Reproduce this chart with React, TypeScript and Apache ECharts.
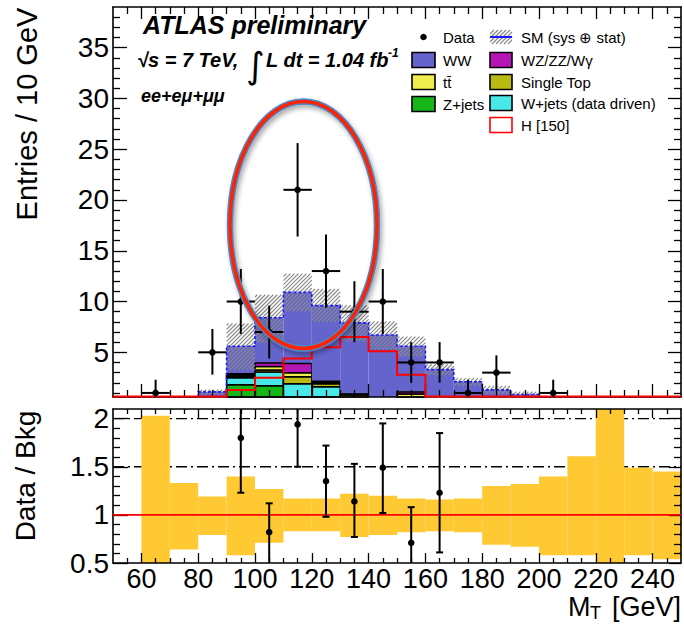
import React, { useEffect, useRef } from "react";
import * as echarts from "echarts";

// ---------------- data ----------------
const binCenters = [55, 65, 75, 85, 95, 105, 115, 125, 135, 145, 155, 165, 175, 185, 195, 205, 215, 225, 235, 245];
const binWidth = 10;
const zJets = [0, 0, 0, 0.3, 1.8, 1.7, 0.05, 0, 0, 0, 0, 0, 0, 0, 0, 0, 0, 0, 0, 0];
const wJets = [0, 0, 0, 0.05, 0.7, 1.35, 1.85, 1.6, 0.3, 0.2, 0.2, 0.1, 0.05, 0, 0, 0, 0, 0, 0, 0];
const singleTop = [0, 0, 0, 0, 0.1, 0.2, 0.7, 0.3, 0.2, 0.1, 0.3, 0.1, 0.05, 0.05, 0, 0, 0, 0, 0, 0];
const ttbar = [0, 0, 0, 0.05, 0.15, 0.35, 0.4, 0.15, 0.3, 0.2, 0.4, 0.2, 0.1, 0.05, 0.05, 0.05, 0, 0, 0, 0];
const dibosons = [0, 0, 0, 0, 0.15, 0.35, 0.9, 0.1, 0.1, 0.05, 0.2, 0.05, 0.05, 0, 0, 0, 0, 0, 0, 0];
const ww = [0.05, 0.1, 0.3, 0.7, 2.7, 4.45, 7.0, 7.45, 7.0, 6.15, 4.5, 2.85, 1.85, 1.2, 0.8, 0.35, 0.3, 0.2, 0.15, 0.1];
const higgs150 = [0, 0, 0, 0, 1.3, 2.5, 4.4, 5.5, 6.5, 5.1, 2.8, 0.3, 0.1, 0, 0, 0, 0, 0, 0, 0];

// relative SM uncertainty band (ratio panel), per bin
const bandLo = [null, 0.0, 0.64, 0.79, 0.58, 0.71, 0.83, 0.83, 0.77, 0.79, 0.82, 0.83, 0.82, 0.69, 0.67, 0.58, 0.58, 0.0, 0.58, 0.54];
const bandHi = [null, 2.03, 1.33, 1.19, 1.4, 1.27, 1.17, 1.17, 1.22, 1.2, 1.17, 1.16, 1.17, 1.3, 1.32, 1.4, 1.61, 2.5, 1.49, 1.45];

const dataX = [65, 85, 95, 105, 115, 125, 135, 145, 155, 165, 175, 185, 205];
const dataY = [1, 5, 10, 7, 21, 13, 9, 10, 4, 4, 1, 3, 1];
const dataErrLo = [1, 2.2, 3.2, 2.6, 4.6, 3.6, 3, 3.2, 2, 2, 1, 1.7, 1];
const dataErrHi = [1.3, 2.3, 3.2, 2.6, 4.6, 3.6, 3, 3.2, 2, 2, 1.3, 1.7, 1.3];

const ratioX = [95, 105, 115, 125, 135, 145, 155, 165];
const ratioY = [1.8, 0.82, 1.94, 1.35, 1.14, 1.49, 0.71, 1.23];
const ratioLo = [1.23, 0.3, 1.5, 0.98, 0.77, 1.02, 0.3, 0.61];
const ratioHi = [2.6, 1.12, 2.4, 1.72, 1.53, 1.95, 1.08, 1.85];

const xTickLabels = [60, 80, 100, 120, 140, 160, 180, 200, 220, 240];
const yMainTickLabels = [5, 10, 15, 20, 25, 30, 35];
const yRatioTickLabels = [0.5, 1, 1.5, 2];
const ratioRefLines = [1.5, 2];
const ratioUnity = [1];

// ---------------- layout / style ----------------
const X_MIN = 50, X_MAX = 250;
const Y_MAIN_MIN = 0.6, Y_MAIN_MAX = 39;
const Y_RATIO_MIN = 0.5, Y_RATIO_MAX = 2.1;
const FONT = "Liberation Sans, Arial, Helvetica, sans-serif";

const C_WW = "#6464cc";
const C_TT = "#eeee4e";
const C_Z = "#17b617";
const C_VV = "#b515b5";
const C_ST = "#b9b914";
const C_WJ = "#48e8e8";
const C_BAND = "#ffc933";

const range = (a: number, b: number, s: number) => {
  const out: number[] = [];
  for (let v = a; v <= b + 1e-9; v += s) out.push(Math.round(v * 1000) / 1000);
  return out;
};
const xMinor = range(55, 245, 5).filter((v) => !xTickLabels.includes(v));
const yMainMinor = range(1, 38, 1).filter((v) => v % 5 !== 0);
const yRatioMinor = range(0.6, 2.0, 0.1).filter((v) => !yRatioTickLabels.some((t) => Math.abs(t - v) < 1e-6));

const layers = [
  { arr: zJets, color: C_Z },
  { arr: wJets, color: C_WJ },
  { arr: singleTop, color: C_ST },
  { arr: ttbar, color: C_TT },
  { arr: dibosons, color: C_VV },
];
const smTotal = binCenters.map((_, i) => ww[i] + layers.reduce((s, l) => s + l.arr[i], 0));

const clampY = (y: number, cs: any) => Math.min(Math.max(y, cs.y), cs.y + cs.height);

function hatch(x0: number, y0: number, x1: number, y1: number, sp: number, style: any) {
  const out: any[] = [];
  const cMin = Math.ceil((x0 + y0) / sp) * sp;
  for (let c = cMin; c <= x1 + y1; c += sp) {
    const xa = Math.max(x0, c - y1);
    const xb = Math.min(x1, c - y0);
    if (xb > xa) out.push({ type: "line", shape: { x1: xa, y1: c - xa, x2: xb, y2: c - xb }, style });
  }
  return out;
}

function mkX(gridIndex: number, position: string, ticks: number[], len: number, opts: any = {}) {
  return {
    type: "value", gridIndex, position, min: X_MIN, max: X_MAX, z: 5,
    axisLine: { show: !!opts.line, onZero: false, lineStyle: { color: "#000", width: 1.6 } },
    axisTick: { show: true, inside: true, length: len, customValues: ticks, lineStyle: { color: "#000", width: 1.3 } },
    axisLabel: opts.labels
      ? { show: true, customValues: opts.labels, margin: 2, fontSize: 27, fontFamily: FONT, color: "#000" }
      : { show: false },
    splitLine: { show: false },
  };
}
function mkY(gridIndex: number, position: string, min: number, max: number, ticks: number[], len: number, opts: any = {}) {
  return {
    type: "value", gridIndex, position, min, max, z: 5,
    axisLine: { show: !!opts.line, onZero: false, lineStyle: { color: "#000", width: 1.6 } },
    axisTick: { show: true, inside: true, length: len, customValues: ticks, lineStyle: { color: "#000", width: 1.3 } },
    axisLabel: opts.labels
      ? { show: true, customValues: opts.labels, margin: 4, fontSize: 28, fontFamily: FONT, color: "#000" }
      : { show: false },
    splitLine: { show: false },
  };
}

function buildOption() {
  const main = { xAxisIndex: 0, yAxisIndex: 0 };
  const ratio = { xAxisIndex: 4, yAxisIndex: 4 };
  const hatchStyle = { stroke: "#8a8a8a", lineWidth: 1.2 };

  const renderStack = (params: any, api: any) => {
    const i = params.dataIndex;
    const cs = params.coordSys;
    const c = binCenters[i];
    const xl = api.coord([c - binWidth / 2, 0])[0];
    const xr = api.coord([c + binWidth / 2, 0])[0];
    let cum = 0;
    const rects: any[] = [];
    layers.forEach((l) => {
      const v = l.arr[i];
      if (v <= 0) return;
      const yb = clampY(api.coord([c, cum])[1], cs);
      const yt = clampY(api.coord([c, cum + v])[1], cs);
      cum += v;
      if (yb - yt < 0.5) return;
      rects.push({ type: "rect", shape: { x: xl, y: yt, width: xr - xl, height: yb - yt }, style: { fill: l.color, stroke: "#000", lineWidth: 1.5 } });
    });
    const children: any[] = [];
    const wb = clampY(api.coord([c, cum])[1], cs);
    const wt = clampY(api.coord([c, cum + ww[i]])[1], cs);
    if (wb - wt > 0.5) children.push({ type: "rect", shape: { x: xl, y: wt, width: xr - xl, height: wb - wt }, style: { fill: C_WW } });
    return { type: "group", children: children.concat(rects) };
  };

  const renderHatch = (params: any, api: any) => {
    const i = params.dataIndex;
    if (bandLo[i] == null) return { type: "group", children: [] };
    const cs = params.coordSys;
    const c = binCenters[i];
    const xl = api.coord([c - binWidth / 2, 0])[0];
    const xr = api.coord([c + binWidth / 2, 0])[0];
    const yt = clampY(api.coord([c, smTotal[i] * (bandHi[i] as number)])[1], cs);
    const yb = clampY(api.coord([c, smTotal[i] * (bandLo[i] as number)])[1], cs);
    if (yb - yt < 0.5) return { type: "group", children: [] };
    return { type: "group", children: hatch(xl, yt, xr, yb, 4, hatchStyle) };
  };

  const stepLine = (values: number[], api: any, cs: any, offset = 0) => {
    const pts: number[][] = [];
    binCenters.forEach((c, i) => {
      const y = Math.min(clampY(api.coord([c, values[i]])[1], cs), cs.y + cs.height - offset);
      pts.push([api.coord([c - binWidth / 2, 0])[0], y]);
      pts.push([api.coord([c + binWidth / 2, 0])[0], y]);
    });
    return pts;
  };

  const renderSM = (params: any, api: any) => ({
    type: "polyline",
    shape: { points: stepLine(smTotal, api, params.coordSys) },
    style: { fill: "none", stroke: "#1a1aff", lineWidth: 1.6, lineDash: [3, 2] },
  });

  const renderHiggs = (params: any, api: any) => ({
    type: "polyline",
    shape: { points: stepLine(higgs150, api, params.coordSys, 0.5) },
    style: { fill: "none", stroke: "#ff0000", lineWidth: 2 },
  });

  const renderData = (params: any, api: any) => {
    const i = params.dataIndex;
    const cs = params.coordSys;
    const x = dataX[i], y = dataY[i];
    const p = api.coord([x, y]);
    const xl = api.coord([x - binWidth / 2, y])[0];
    const xr = api.coord([x + binWidth / 2, y])[0];
    const yt = clampY(api.coord([x, y + dataErrHi[i]])[1], cs);
    const yb = clampY(api.coord([x, y - dataErrLo[i]])[1], cs);
    const st = { stroke: "#000", lineWidth: 2 };
    return {
      type: "group",
      children: [
        { type: "line", shape: { x1: xl, y1: p[1], x2: xr, y2: p[1] }, style: st },
        { type: "line", shape: { x1: p[0], y1: yt, x2: p[0], y2: yb }, style: st },
        { type: "circle", shape: { cx: p[0], cy: p[1], r: 3.3 }, style: { fill: "#000" } },
      ],
    };
  };

  const renderRef = (params: any, api: any) => {
    const v = ratioRefLines[params.dataIndex];
    const a = api.coord([X_MIN, v]);
    const b = api.coord([X_MAX, v]);
    return { type: "line", shape: { x1: a[0], y1: a[1], x2: b[0], y2: b[1] }, style: { stroke: "#000", lineWidth: 1.3, lineDash: [11, 4, 2, 4] } };
  };

  const renderBand = (params: any, api: any) => {
    const i = params.dataIndex;
    if (bandLo[i] == null) return { type: "group", children: [] };
    const cs = params.coordSys;
    const c = binCenters[i];
    const xl = api.coord([c - binWidth / 2, 0])[0];
    const xr = api.coord([c + binWidth / 2, 0])[0];
    const yt = clampY(api.coord([c, bandHi[i] as number])[1], cs);
    const yb = clampY(api.coord([c, bandLo[i] as number])[1], cs);
    return { type: "rect", shape: { x: xl, y: yt, width: xr - xl, height: yb - yt }, style: { fill: C_BAND } };
  };

  const renderUnity = (params: any, api: any) => {
    const v = ratioUnity[params.dataIndex];
    const a = api.coord([X_MIN, v]);
    const b = api.coord([X_MAX, v]);
    return { type: "line", shape: { x1: a[0], y1: a[1], x2: b[0], y2: b[1] }, style: { stroke: "#ff0000", lineWidth: 1.6 } };
  };

  const renderRatio = (params: any, api: any) => {
    const i = params.dataIndex;
    const cs = params.coordSys;
    const x = ratioX[i];
    const p = api.coord([x, ratioY[i]]);
    const rawT = api.coord([x, ratioHi[i]])[1];
    const rawB = api.coord([x, ratioLo[i]])[1];
    const yt = clampY(rawT, cs);
    const yb = clampY(rawB, cs);
    const st = { stroke: "#000", lineWidth: 2 };
    const ch: any[] = [{ type: "line", shape: { x1: p[0], y1: yt, x2: p[0], y2: yb }, style: st }];
    if (rawT >= cs.y) ch.push({ type: "line", shape: { x1: p[0] - 3.5, y1: yt, x2: p[0] + 3.5, y2: yt }, style: st });
    if (rawB <= cs.y + cs.height) ch.push({ type: "line", shape: { x1: p[0] - 3.5, y1: yb, x2: p[0] + 3.5, y2: yb }, style: st });
    ch.push({ type: "circle", shape: { cx: p[0], cy: p[1], r: 3.3 }, style: { fill: "#000" } });
    return { type: "group", children: ch };
  };

  // ---------- legend & labels (graphic) ----------
  const txt = (text: string, x: number, y: number, o: any = {}) => ({
    type: "text", x, y, z: 100,
    style: { text, fill: "#000", fontFamily: FONT, fontSize: 15, align: "left", verticalAlign: "middle", ...o },
  });
  const box = (x: number, y: number, w: number, h: number, fill: string, stroke = "#000") => ({
    type: "rect", z: 100, shape: { x, y, width: w, height: h }, style: { fill, stroke, lineWidth: 1.6 },
  });

  const col1Rows = [37, 60, 82, 104];
  const col2Rows = [37, 60, 82, 103, 125];
  const graphic: any[] = [
    // ellipse annotation
    {
      type: "ellipse", z: 100, shape: { cx: 303.5, cy: 225, rx: 73.5, ry: 123.5 },
      style: { fill: "none", stroke: "#4d88c9", lineWidth: 6.5, shadowBlur: 5, shadowColor: "rgba(0,0,0,0.35)", shadowOffsetX: 2, shadowOffsetY: 3 },
    },
    { type: "ellipse", z: 101, shape: { cx: 303.5, cy: 225, rx: 73.5, ry: 123.5 }, style: { fill: "none", stroke: "#ff2200", lineWidth: 3.5 } },

    // titles
    txt("ATLAS preliminary", 143, 25, { fontSize: 25, fontWeight: "bold", fontStyle: "italic" }),
    txt("\u221As = 7 TeV,", 137, 60, { fontSize: 20, fontWeight: "bold", fontStyle: "italic" }),
    txt("\u222B", 246, 65, { fontSize: 36, fontFamily: "DejaVu Sans", fontWeight: "normal" }),
    txt("L dt = 1.04 fb", 266, 60, { fontSize: 20, fontWeight: "bold", fontStyle: "italic" }),
    txt("-1", 388, 53, { fontSize: 12, fontWeight: "bold", fontStyle: "italic" }),
    txt("ee+e\u03BC+\u03BC\u03BC", 141, 96, { fontSize: 18, fontWeight: "bold", fontStyle: "italic" }),

    // axis titles
    { type: "text", x: 27, y: 114, rotation: Math.PI / 2, z: 100, style: { text: "Entries / 10 GeV", fill: "#000", fontFamily: FONT, fontSize: 29, align: "center", verticalAlign: "middle" } },
    { type: "text", x: 25, y: 476, rotation: Math.PI / 2, z: 100, style: { text: "Data / Bkg", fill: "#000", fontFamily: FONT, fontSize: 28, align: "center", verticalAlign: "middle" } },
    txt("M", 568, 607, { fontSize: 27 }),
    txt("T", 590, 613, { fontSize: 18 }),
    txt("[GeV]", 681, 607, { fontSize: 27, align: "right" }),

    // legend column 1
    { type: "circle", z: 100, shape: { cx: 423.5, cy: col1Rows[0], r: 3.3 }, style: { fill: "#000" } },
    txt("Data", 443, col1Rows[0]),
    box(412, col1Rows[1] - 7.5, 23, 15, C_WW),
    txt("WW", 443, col1Rows[1]),
    box(412, col1Rows[2] - 7.5, 23, 15, C_TT),
    txt("t\u0074\u0304", 443, col1Rows[2]),
    box(412, col1Rows[3] - 7.5, 23, 15, C_Z),
    txt("Z+jets", 443, col1Rows[3]),

    // legend column 2
    ...hatch(490, col2Rows[0] - 7, 512, col2Rows[0] + 7, 4, { stroke: "#8a8a8a", lineWidth: 1.2 }).map((e) => ({ ...e, z: 100 })),
    { type: "line", z: 101, shape: { x1: 490, y1: col2Rows[0], x2: 512, y2: col2Rows[0] }, style: { stroke: "#1a1aff", lineWidth: 2 } },
    txt("SM (sys \u2295 stat)", 521, col2Rows[0]),
    box(490, col2Rows[1] - 7.5, 22, 15, C_VV),
    txt("WZ/ZZ/W\u03B3", 521, col2Rows[1]),
    box(490, col2Rows[2] - 7.5, 22, 15, C_ST),
    txt("Single Top", 521, col2Rows[2]),
    box(490, col2Rows[3] - 7.5, 22, 15, C_WJ),
    txt("W+jets (data driven)", 521, col2Rows[3]),
    box(490, col2Rows[4] - 7.5, 22, 15, "#fff", "#ff0000"),
    txt("H [150]", 521, col2Rows[4]),
  ];

  return {
    animation: false,
    backgroundColor: "#fff",
    grid: [
      { left: 113, top: 7, width: 568, height: 390, outerBoundsMode: "none" },
      { left: 113, top: 409, width: 568, height: 154, outerBoundsMode: "none" },
    ],
    xAxis: [
      mkX(0, "bottom", xTickLabels, 13, { line: true }),
      mkX(0, "bottom", xMinor, 7),
      mkX(0, "top", xTickLabels, 12, { line: true }),
      mkX(0, "top", xMinor, 7),
      mkX(1, "bottom", xTickLabels, 10, { line: true, labels: xTickLabels }),
      mkX(1, "bottom", xMinor, 5),
      mkX(1, "top", xTickLabels, 9, { line: true }),
      mkX(1, "top", xMinor, 5),
    ],
    yAxis: [
      mkY(0, "left", Y_MAIN_MIN, Y_MAIN_MAX, yMainTickLabels, 14, { line: true, labels: yMainTickLabels }),
      mkY(0, "left", Y_MAIN_MIN, Y_MAIN_MAX, yMainMinor, 7),
      mkY(0, "right", Y_MAIN_MIN, Y_MAIN_MAX, yMainTickLabels, 13, { line: true }),
      mkY(0, "right", Y_MAIN_MIN, Y_MAIN_MAX, yMainMinor, 7),
      mkY(1, "left", Y_RATIO_MIN, Y_RATIO_MAX, yRatioTickLabels, 15, { line: true, labels: yRatioTickLabels }),
      mkY(1, "left", Y_RATIO_MIN, Y_RATIO_MAX, yRatioMinor, 7),
      mkY(1, "right", Y_RATIO_MIN, Y_RATIO_MAX, yRatioTickLabels, 12, { line: true }),
      mkY(1, "right", Y_RATIO_MIN, Y_RATIO_MAX, yRatioMinor, 7),
    ],
    series: [
      { type: "custom", ...main, z: 2, data: binCenters.map((c, i) => [c, smTotal[i]]), renderItem: renderStack },
      { type: "custom", ...main, z: 3, data: binCenters.map((c, i) => [c, smTotal[i]]), renderItem: renderHatch },
      { type: "custom", ...main, z: 4, data: [[150, 1]], renderItem: renderSM },
      { type: "custom", ...main, z: 10, data: [[150, 1]], renderItem: renderHiggs },
      { type: "custom", ...main, z: 11, data: dataX.map((x, i) => [x, dataY[i]]), renderItem: renderData },
      { type: "custom", ...ratio, z: 1, data: ratioRefLines.map((v) => [150, v]), renderItem: renderRef },
      { type: "custom", ...ratio, z: 2, data: binCenters.map((c) => [c, 1]), renderItem: renderBand },
      { type: "custom", ...ratio, z: 6, data: ratioUnity.map((v) => [150, v]), renderItem: renderUnity },
      { type: "custom", ...ratio, z: 11, data: ratioX.map((x, i) => [x, ratioY[i]]), renderItem: renderRatio },
    ],
    graphic: { elements: graphic },
  };
}

export default function App() {
  const ref = useRef<HTMLDivElement>(null);
  useEffect(() => {
    if (!ref.current) return;
    const chart = echarts.init(ref.current, undefined, { renderer: "svg" });
    chart.setOption(buildOption() as any);
    return () => chart.dispose();
  }, []);
  return (
    <div
      ref={ref}
      style={{ position: "fixed", left: 0, top: 0, width: 684, height: 625, background: "#fff" }}
    />
  );
}
